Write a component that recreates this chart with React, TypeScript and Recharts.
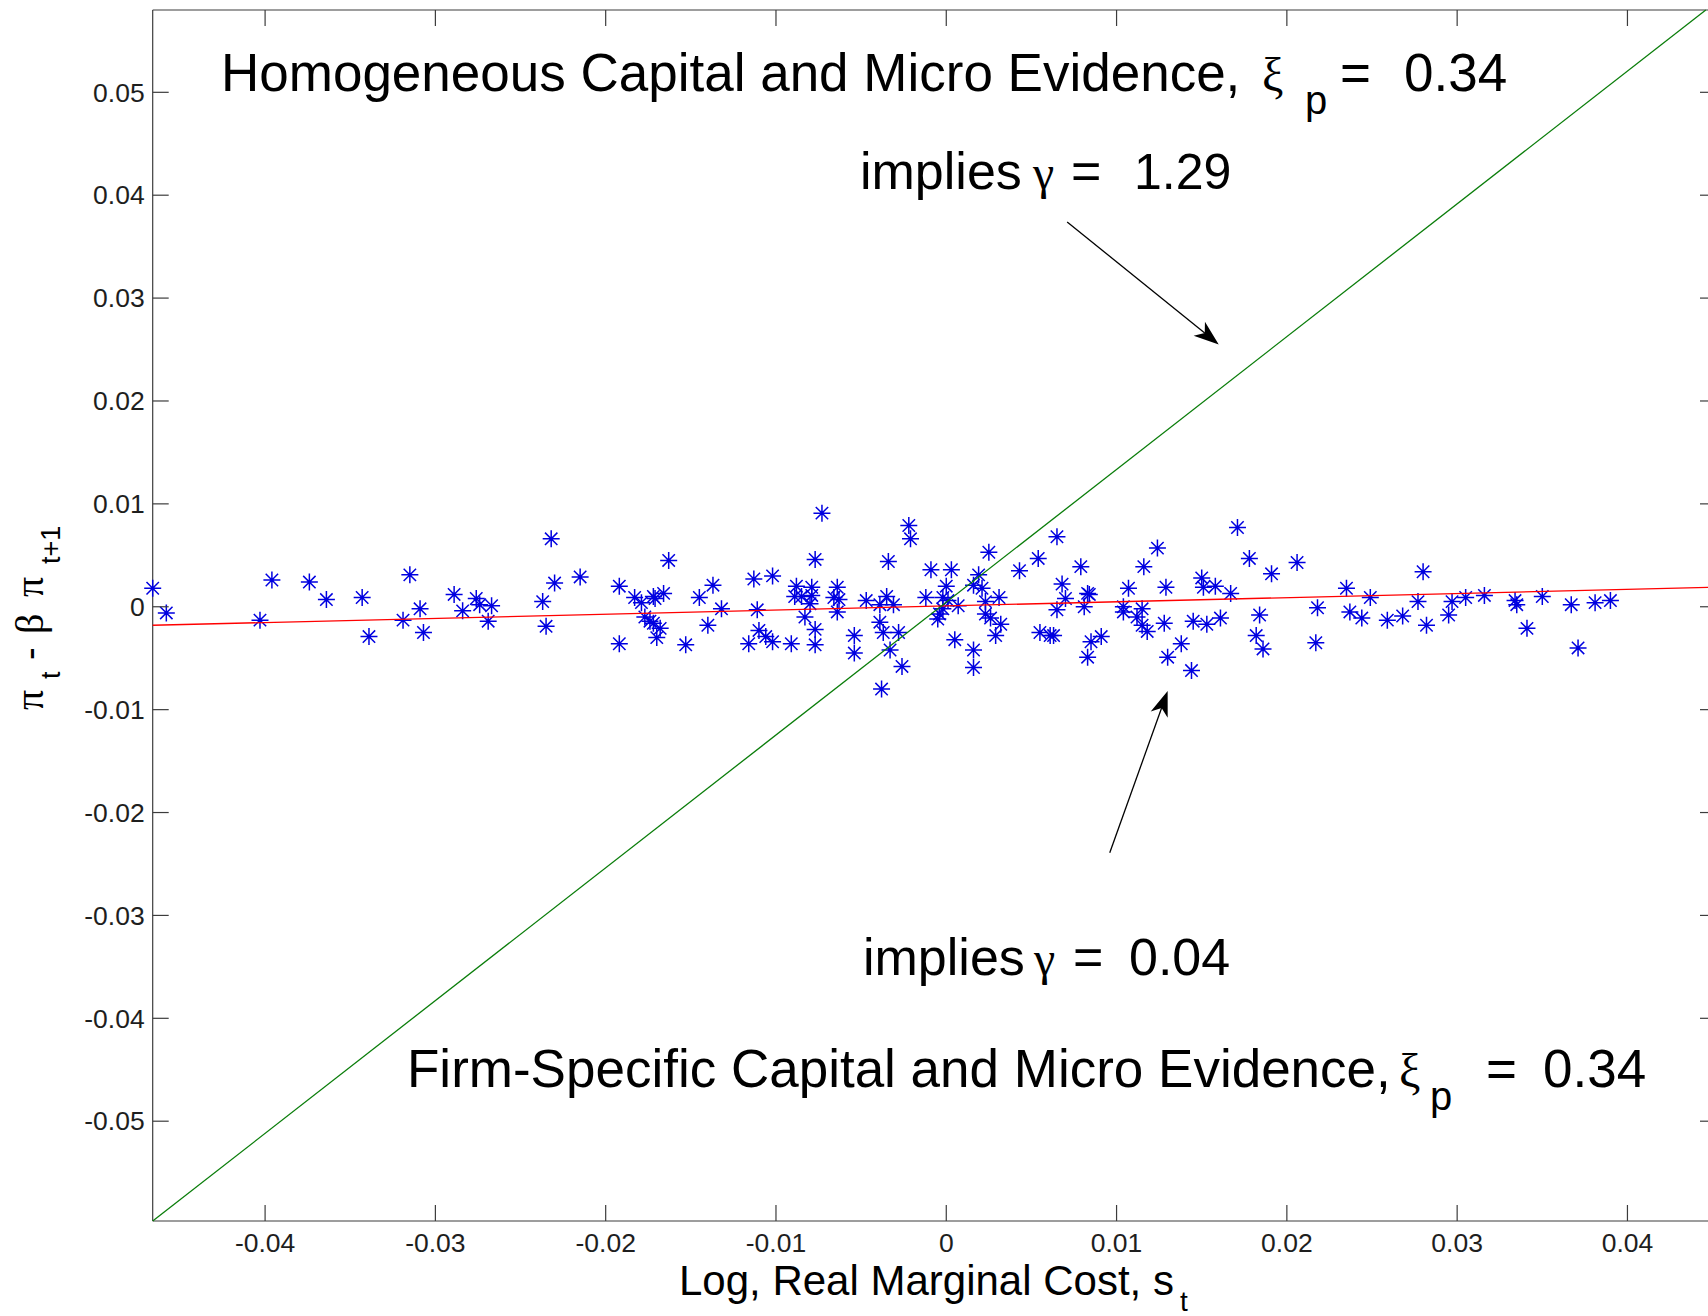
import {
  ScatterChart,
  Scatter,
  XAxis,
  YAxis,
  ReferenceLine,
  Customized,
} from "recharts";

// log real marginal cost, s_t
const marginalCost = [
  -0.0466, -0.0458, -0.0403, -0.0396, -0.0374, -0.0364, -0.0343, -0.0339, -0.0315, -0.0319,
  -0.0309, -0.0307, -0.0289, -0.0284, -0.0276, -0.0274, -0.0267, -0.0269, -0.0232, -0.0237,
  -0.023, -0.0235, -0.0215, -0.0192, -0.0192, -0.0183,
  -0.0073, -0.0022, -0.0021, -0.0163, -0.0077, -0.0034, 0.0025, 0.0065, 0.0054, 0.0043,
  0.0079, -0.0009, 0.0003, 0.0019, 0.0016, 0.0, 0.0021, -0.0179, -0.0172, -0.0171,
  -0.0166, -0.0177, -0.0174, -0.0172, -0.0168, -0.017, -0.0153, -0.0145, -0.0137, -0.0132,
  -0.014, -0.0113, -0.0102, -0.0111, -0.0116, -0.011, -0.0106, -0.0102, -0.0091, -0.0088,
  -0.0089, -0.0085, -0.0079, -0.0079, -0.008, -0.0083, -0.0077, -0.0077, -0.0064, -0.0066,
  -0.0063, -0.0064, -0.0047, -0.0035, -0.0039, -0.0031, -0.0039, -0.0037, -0.0028, -0.0054,
  -0.0054, -0.0033, -0.0026, -0.0038, -0.0012, -0.0002, 0.0001, 0.0007, -0.0002, -0.0004,
  -0.0005, 0.0005, 0.0016, 0.0016, 0.0023, 0.0031, 0.0023, 0.0026, 0.0032, 0.0029,
  0.0068, 0.007, 0.0065, 0.0055, 0.0061, 0.0063, 0.0083, 0.0081, 0.0085, 0.0083,
  0.0084, 0.0091, 0.0107, 0.0116, 0.0124, 0.0104, 0.0104, 0.0115, 0.0112, 0.0115,
  0.0118, 0.0128, 0.0129, 0.0138, 0.013, 0.0144, 0.015, 0.0151, 0.0158, 0.0167,
  0.0145, 0.0153, 0.0161, 0.0171, 0.0178, 0.0191, 0.0206, 0.0184, 0.0182, 0.0186,
  0.0218, 0.0217, 0.0235, 0.0237, 0.0244, 0.0249, 0.0259, 0.0268, 0.0277, 0.028,
  0.0282, 0.0297, 0.0295, 0.0305, 0.0316, 0.0334, 0.0335, 0.0341, 0.035, 0.0367,
  0.0371, 0.0381, 0.039,
];

// pi_t - beta * pi_{t+1}
const inflationGap = [
  0.0018, -0.0006, -0.0013, 0.0026, 0.0024, 0.0007, 0.0009, -0.0029, 0.0031, -0.0013,
  -0.0002, -0.0025, 0.0012, -0.0004, 0.0008, 0.0002, 0.0001, -0.0014, 0.0066, 0.0005,
  0.0023, -0.0019, 0.0029, 0.002, -0.0036, 0.0009,
  0.0091, 0.0079, 0.0066, 0.0045, 0.0046, 0.0044, 0.0053, 0.0068, 0.0047, 0.0035,
  0.0039, 0.0036, 0.0036, 0.0031, 0.0021, 0.002, 0.0018, 0.0004, 0.001, 0.0008,
  0.0013, -0.001, -0.0014, -0.0016, -0.0021, -0.003, -0.0037, 0.0009, 0.0021, -0.0002,
  -0.0018, 0.0027, 0.003, -0.0003, -0.0036, -0.0023, -0.0029, -0.0034, -0.0036, 0.002,
  0.001, 0.001, 0.0019, 0.0011, 0.0003, -0.001, -0.0022, -0.0037, 0.0019, 0.0009,
  0.0007, -0.0005, 0.0006, 0.001, 0.0002, 0.0002, -0.0015, -0.0025, -0.0025, -0.0028,
  -0.0045, -0.0042, -0.0058, -0.008, 0.0009, 0.0009, 0.0006, 0.0001, -0.0002, -0.0007,
  -0.0012, -0.0032, -0.0042, -0.0059, 0.0005, 0.0009, -0.0007, -0.0011, -0.0017, -0.0028,
  0.0022, 0.0008, -0.0003, -0.0025, -0.0028, -0.0028, 0.0013, 0.0, -0.0034, -0.0049,
  0.0012, -0.0029, 0.0018, 0.0039, 0.0057, 0.0, -0.0005, -0.0002, -0.001, -0.0018,
  -0.0024, -0.0016, 0.0019, -0.0036, -0.0049, -0.0062, 0.0028, 0.0019, 0.002, 0.0013,
  -0.0014, -0.0017, -0.0011, 0.0077, 0.0047, 0.0032, 0.0043, -0.0008, -0.0028, -0.0041,
  -0.0001, -0.0035, 0.0018, -0.0005, -0.0011, 0.0009, -0.0013, -0.0009, 0.0005, 0.0034,
  -0.0018, 0.0005, -0.0008, 0.0009, 0.0011, 0.0006, 0.0002, -0.0021, 0.001, 0.0002,
  -0.004, 0.0004, 0.0006,
];

const xTicks = [-0.04, -0.03, -0.02, -0.01, 0, 0.01, 0.02, 0.03, 0.04];
const yTicks = [-0.05, -0.04, -0.03, -0.02, -0.01, 0, 0.01, 0.02, 0.03, 0.04, 0.05];

const xDomain = [-0.0466, 0.0452];
const yDomain = [-0.0597, 0.058];

// slope 1.29: homogeneous capital
const homogeneousFit = [
  { x: -0.0466, y: -0.0597 },
  { x: 0.0446, y: 0.058 },
];
// slope 0.04: firm-specific capital
const firmSpecificFit = [
  { x: -0.0466, y: -0.0018 },
  { x: 0.0452, y: 0.0019 },
];

const upperArrow = [
  { x: 0.0071, y: 0.0374 },
  { x: 0.016, y: 0.0255 },
];
const lowerArrow = [
  { x: 0.0096, y: -0.0239 },
  { x: 0.013, y: -0.0082 },
];

const sans = "'Liberation Sans', Arial, Helvetica, sans-serif";
const serif = "'Liberation Serif', 'Times New Roman', serif";
const axisColor = "#3c3c3c";
const TICK_LEN = 16;

const Star = (props: any) => {
  const { cx, cy } = props;
  const a = 8.5;
  const d = 6.2;
  return (
    <path
      d={`M${cx - a},${cy}H${cx + a}M${cx},${cy - a}V${cy + a}M${cx - d},${cy - d}L${cx + d},${cy + d}M${cx - d},${cy + d}L${cx + d},${cy - d}`}
      stroke="#0000e0"
      strokeWidth={1.5}
      fill="none"
    />
  );
};

const NoMarker = () => <g />;

const BottomTick = (props: any) => {
  const { x, y, payload } = props;
  return (
    <g>
      <line x1={x} x2={x} y1={y} y2={y - TICK_LEN} stroke={axisColor} strokeWidth={1.2} />
      <text x={x} y={y + 30.5} textAnchor="middle" fontSize={26.5} fontFamily={sans} fill="#1e1e1e">
        {String(payload.value)}
      </text>
    </g>
  );
};

const TopTick = (props: any) => {
  const { x, y } = props;
  return <line x1={x} x2={x} y1={y} y2={y + TICK_LEN} stroke={axisColor} strokeWidth={1.2} />;
};

const LeftTick = (props: any) => {
  const { x, y, payload } = props;
  return (
    <g>
      <line x1={x} x2={x + TICK_LEN} y1={y} y2={y} stroke={axisColor} strokeWidth={1.2} />
      <text x={x - 8} y={y + 9.3} textAnchor="end" fontSize={26.5} fontFamily={sans} fill="#1e1e1e">
        {String(payload.value)}
      </text>
    </g>
  );
};

const RightTick = (props: any) => {
  const { x, y } = props;
  return <line x1={x} x2={x - TICK_LEN} y1={y} y2={y} stroke={axisColor} strokeWidth={1.2} />;
};

const Arrow = (props: any) => {
  const { x1, y1, x2, y2 } = props;
  const len = Math.hypot(x2 - x1, y2 - y1);
  const ux = (x2 - x1) / len;
  const uy = (y2 - y1) / len;
  const head = 25;
  const half = 9;
  const notch = 18;
  const bx = x2 - ux * head;
  const by = y2 - uy * head;
  const pts = [
    [x2, y2],
    [bx - uy * half, by + ux * half],
    [x2 - ux * notch, y2 - uy * notch],
    [bx + uy * half, by - ux * half],
  ]
    .map((p) => p.join(","))
    .join(" ");
  return (
    <g>
      <line x1={x1} y1={y1} x2={x2 - ux * notch} y2={y2 - uy * notch} stroke="#000" strokeWidth={1.3} />
      <polygon points={pts} fill="#000" />
    </g>
  );
};

const Annotations = () => (
  <g fill="#000" fontFamily={sans}>
    <text x={221} y={91} fontSize={53}>Homogeneous Capital and Micro Evidence,</text>
    <text x={1262} y={91} fontSize={48} fontFamily={serif}>ξ</text>
    <text x={1305} y={114} fontSize={40}>p</text>
    <text x={1340} y={91} fontSize={53}>=</text>
    <text x={1404} y={91} fontSize={53}>0.34</text>

    <text x={860} y={189} fontSize={52}>implies</text>
    <text x={1033} y={189} fontSize={48} fontFamily={serif}>γ</text>
    <text x={1071} y={189} fontSize={52}>=</text>
    <text x={1134} y={189} fontSize={50}>1.29</text>

    <text x={863} y={975} fontSize={52}>implies</text>
    <text x={1034} y={975} fontSize={48} fontFamily={serif}>γ</text>
    <text x={1073} y={975} fontSize={52}>=</text>
    <text x={1129} y={975} fontSize={52}>0.04</text>

    <text x={407} y={1087} fontSize={53}>Firm-Specific Capital and Micro Evidence,</text>
    <text x={1399} y={1087} fontSize={48} fontFamily={serif}>ξ</text>
    <text x={1430} y={1110} fontSize={40}>p</text>
    <text x={1486} y={1087} fontSize={53}>=</text>
    <text x={1543} y={1087} fontSize={53}>0.34</text>

    <text x={679} y={1295} fontSize={42}>Log, Real Marginal Cost, s</text>
    <text x={1180} y={1311} fontSize={28}>t</text>

    <g transform="translate(43, 710) rotate(-90)">
      <text x={0} y={0} fontSize={40} fontFamily={serif}>π</text>
      <text x={31} y={17} fontSize={27}>t</text>
      <text x={50} y={0} fontSize={38}>-</text>
      <text x={76} y={0} fontSize={40} fontFamily={serif}>β</text>
      <text x={113} y={0} fontSize={40} fontFamily={serif}>π</text>
      <text x={146} y={17} fontSize={27}>t+1</text>
    </g>
  </g>
);

export default function App() {
  const data = marginalCost.map((x, i) => ({ x, y: inflationGap[i] }));
  const axisLine = { stroke: axisColor, strokeWidth: 1.2 };
  return (
    <div
      style={{
        position: "absolute",
        left: 0,
        top: 0,
        width: 1708,
        height: 1316,
        overflow: "hidden",
        background: "#fff",
      }}
    >
      <ScatterChart width={1730} height={1316} margin={{ top: 9, right: 13, bottom: 0, left: 0 }}>
        <XAxis
          type="number"
          dataKey="x"
          domain={xDomain}
          ticks={xTicks}
          interval={0}
          height={95}
          tickSize={0}
          tickMargin={0}
          tickLine={false}
          axisLine={axisLine}
          tick={(p: any) => <BottomTick {...p} />}
        />
        {/* frame: top and right axes carry only inward ticks */}
        <XAxis
          xAxisId="top"
          orientation="top"
          type="number"
          dataKey="x"
          domain={xDomain}
          ticks={xTicks}
          interval={0}
          height={1}
          tickSize={0}
          tickMargin={0}
          tickLine={false}
          axisLine={axisLine}
          tick={(p: any) => <TopTick {...p} />}
        />
        <YAxis
          type="number"
          dataKey="y"
          domain={yDomain}
          ticks={yTicks}
          interval={0}
          width={152.7}
          tickSize={0}
          tickMargin={0}
          tickLine={false}
          axisLine={axisLine}
          tick={(p: any) => <LeftTick {...p} />}
        />
        <YAxis
          yAxisId="right"
          orientation="right"
          type="number"
          dataKey="y"
          domain={yDomain}
          ticks={yTicks}
          interval={0}
          width={1}
          tickSize={0}
          tickMargin={0}
          tickLine={false}
          axisLine={axisLine}
          tick={(p: any) => <RightTick {...p} />}
        />
        <Scatter
          xAxisId="top"
          yAxisId="right"
          data={firmSpecificFit}
          shape={NoMarker}
          isAnimationActive={false}
        />
        <Scatter data={data} shape={Star} isAnimationActive={false} />
        <Scatter
          data={firmSpecificFit}
          line={{ stroke: "#ff0000", strokeWidth: 1.3 }}
          shape={NoMarker}
          isAnimationActive={false}
        />
        <Scatter
          data={homogeneousFit}
          line={{ stroke: "#0a7d0a", strokeWidth: 1.3 }}
          shape={NoMarker}
          isAnimationActive={false}
        />
        <ReferenceLine segment={upperArrow} shape={Arrow} />
        <ReferenceLine segment={lowerArrow} shape={Arrow} />
        <Customized component={Annotations} />
      </ScatterChart>
    </div>
  );
}
